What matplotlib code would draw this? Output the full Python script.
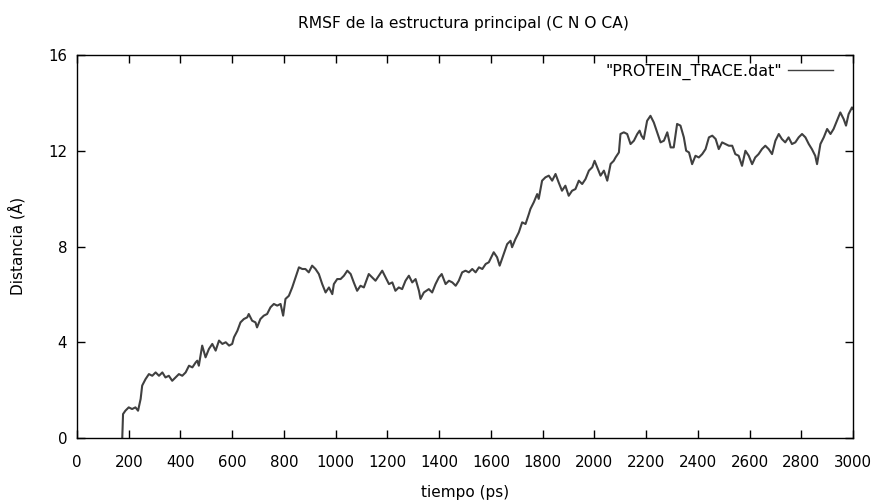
import matplotlib
matplotlib.use("Agg")
import matplotlib.pyplot as plt

time_ps = [175, 178, 187, 200, 213, 226, 236, 246, 252, 265, 278, 291, 304, 317, 330, 342,
           355, 368, 381, 394, 407, 420, 433, 446, 459, 465, 471, 484, 497, 510, 523, 536,
           549, 562, 575, 588, 600, 607, 620, 632, 645, 658, 664, 677, 690, 696, 709, 722,
           735, 748, 761, 774, 787, 797, 806, 819, 832, 845, 858, 871, 883, 896, 909, 922,
           935, 948, 961, 974, 987, 993, 1006, 1019, 1032, 1045, 1058, 1070, 1083, 1096, 1109, 1128,
           1141, 1154, 1167, 1180, 1193, 1206, 1219, 1231, 1244, 1257, 1270, 1283, 1296, 1309, 1322, 1328,
           1341, 1360, 1373, 1386, 1399, 1410, 1425, 1438, 1451, 1464, 1476, 1489, 1502, 1515, 1528, 1541,
           1554, 1567, 1580, 1592, 1611, 1624, 1634, 1650, 1663, 1676, 1682, 1695, 1708, 1721, 1734, 1747,
           1753, 1766, 1779, 1785, 1798, 1811, 1824, 1837, 1850, 1862, 1875, 1888, 1901, 1914, 1927, 1940,
           1953, 1966, 1979, 1992, 2001, 2011, 2024, 2037, 2050, 2063, 2075, 2082, 2095, 2101, 2114, 2127,
           2140, 2153, 2166, 2175, 2182, 2191, 2204, 2217, 2230, 2243, 2256, 2269, 2282, 2295, 2307, 2320,
           2333, 2346, 2355, 2366, 2378, 2391, 2404, 2417, 2430, 2443, 2456, 2469, 2481, 2494, 2507, 2520,
           2533, 2545, 2558, 2571, 2584, 2597, 2610, 2622, 2635, 2648, 2661, 2674, 2687, 2700, 2713, 2725,
           2738, 2751, 2764, 2777, 2790, 2803, 2816, 2829, 2841, 2854, 2861, 2874, 2887, 2900, 2913, 2925,
           2938, 2951, 2964, 2973, 2983, 2996, 3000]

distance = [0.00, 1.00, 1.14, 1.28, 1.21, 1.28, 1.14, 1.63, 2.19, 2.46, 2.67, 2.60, 2.74, 2.60, 2.74, 2.53,
            2.60, 2.39, 2.53, 2.67, 2.60, 2.74, 3.02, 2.95, 3.16, 3.23, 3.02, 3.86, 3.37, 3.72, 3.93, 3.65,
            4.07, 3.93, 4.00, 3.86, 3.93, 4.21, 4.48, 4.83, 4.97, 5.04, 5.18, 4.90, 4.83, 4.62, 4.97, 5.11,
            5.18, 5.46, 5.60, 5.53, 5.60, 5.11, 5.81, 5.94, 6.29, 6.71, 7.13, 7.06, 7.06, 6.92, 7.20, 7.06,
            6.85, 6.43, 6.08, 6.29, 6.01, 6.43, 6.64, 6.64, 6.78, 6.99, 6.85, 6.50, 6.15, 6.36, 6.29, 6.85,
            6.71, 6.57, 6.78, 6.99, 6.71, 6.43, 6.50, 6.15, 6.29, 6.22, 6.57, 6.78, 6.50, 6.64, 6.15, 5.81,
            6.08, 6.22, 6.08, 6.43, 6.71, 6.85, 6.43, 6.57, 6.50, 6.36, 6.57, 6.92, 6.99, 6.92, 7.06, 6.92,
            7.13, 7.06, 7.27, 7.34, 7.76, 7.55, 7.20, 7.69, 8.10, 8.24, 7.97, 8.31, 8.59, 9.01, 8.94, 9.36,
            9.57, 9.85, 10.19, 9.99, 10.75, 10.89, 10.96, 10.75, 11.03, 10.68, 10.33, 10.54, 10.12, 10.33, 10.40, 10.75,
            10.61, 10.82, 11.17, 11.31, 11.58, 11.31, 10.96, 11.17, 10.75, 11.45, 11.58, 11.72, 11.93, 12.70, 12.77, 12.70,
            12.28, 12.42, 12.70, 12.84, 12.63, 12.49, 13.25, 13.46, 13.18, 12.77, 12.35, 12.42, 12.77, 12.14, 12.14, 13.12,
            13.05, 12.56, 12.00, 11.93, 11.44, 11.79, 11.72, 11.86, 12.07, 12.56, 12.63, 12.49, 12.07, 12.35, 12.28, 12.21,
            12.21, 11.86, 11.79, 11.37, 12.00, 11.79, 11.44, 11.72, 11.86, 12.07, 12.21, 12.07, 11.86, 12.42, 12.70, 12.49,
            12.35, 12.56, 12.28, 12.35, 12.56, 12.70, 12.56, 12.28, 12.07, 11.79, 11.44, 12.28, 12.56, 12.91, 12.70, 12.91,
            13.25, 13.60, 13.32, 13.05, 13.53, 13.81, 13.75]

x_ticks = list(range(0, 3001, 200))
y_ticks = [0, 4, 8, 12, 16]
series_label = '"PROTEIN_TRACE.dat"'
title = "RMSF de la estructura principal (C N O CA)"
x_label = "tiempo (ps)"
y_label = "Distancia (Å)"

plt.rcParams['font.family'] = ['DejaVu Sans']
fig = plt.figure(figsize=(8.76, 5.03), dpi=100)
ax = fig.add_axes([77/876, 1 - 438/503, (853 - 77)/876, (438 - 55)/503])

ax.plot(time_ps, distance, color="#404040", lw=1.5, label=series_label)
ax.set_xlim(0, 3000)
ax.set_ylim(0, 16)
ax.set_xticks(x_ticks)
ax.set_yticks(y_ticks)
ax.tick_params(direction="in", length=6, width=1, top=True, right=True,
               labelsize=10.8, colors="black")
ax.tick_params(axis="x", pad=12)
ax.tick_params(axis="y", pad=7)
for s in ax.spines.values():
    s.set_linewidth(1.0)
    s.set_color("black")

fig.text(463 / 876, 1 - 24 / 503, title, ha="center", va="center", fontsize=11.2)
fig.text(465 / 876, 1 - 493 / 503, x_label, ha="center", va="center", fontsize=11)
fig.text(17 / 876, 1 - 246 / 503, y_label, ha="center", va="center", rotation=90, fontsize=11)

leg = ax.legend(loc="upper right", frameon=False, markerfirst=False, fontsize=11.5,
                bbox_to_anchor=((833 - 77) / 776, (438 - 64) / 383),
                borderaxespad=0, borderpad=0,
                handlelength=2.8, handletextpad=0.4)
for line in leg.get_lines():
    line.set_linewidth(1.0)

fig.savefig("out.png", dpi=100)
